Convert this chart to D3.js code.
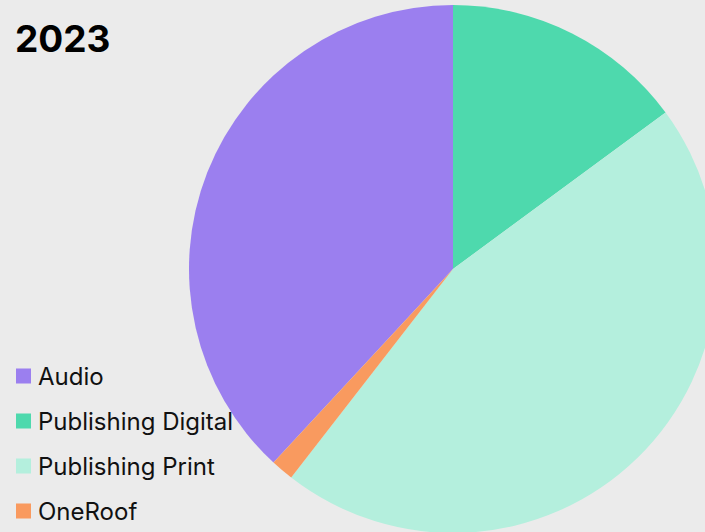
<!DOCTYPE html>
<html>
<head>
<meta charset="utf-8">
<script src="https://cdn.jsdelivr.net/npm/d3@7"></script>
<style>
	body { margin: 0; background: #ebebeb; }
	svg { display: block; font-family: Inter, "Noto Sans", sans-serif; }
</style>
</head>
<body>
<div id="chart"></div>
<script>
var categories = ["Audio", "Publishing Digital", "Publishing Print", "OneRoof"];
var values = [38.1, 14.9, 45.6, 1.4];
var colors = ["#9b7fef", "#4ed9ad", "#b4efdd", "#f99a5f"];
var title = "2023";

var width = 705,
	height = 532;

var svg = d3.select("#chart").append("svg")
	.attr("width", width)
	.attr("height", height);

svg.append("rect")
	.attr("width", width)
	.attr("height", height)
	.attr("fill", "#ebebeb");

var total = d3.sum(values);

// Audio ends at 12 o'clock, the rest runs clockwise from there
var offset = 2 * Math.PI * values[0] / total;
var pie = d3.pie()
	.sort(null)
	.startAngle(-offset)
	.endAngle(2 * Math.PI - offset);

var arc = d3.arc().innerRadius(0).outerRadius(264);

svg.append("g")
	.attr("transform", "translate(453,269)")
	.selectAll("path")
	.data(pie(values))
	.enter()
	.append("path")
	.attr("d", arc)
	.attr("fill", function(d, i) { return colors[i]; });

svg.append("text")
	.attr("x", 15)
	.attr("y", 52)
	.attr("font-size", 37)
	.attr("font-weight", 700)
	.attr("fill", "#000")
	.text(title);

var legend = svg.append("g")
	.selectAll(".item")
	.data(categories)
	.enter()
	.append("g")
	.attr("class", "item")
	.attr("transform", function(d, i) { return "translate(16," + (376 + i * 45) + ")"; });

legend.append("rect")
	.attr("x", 0)
	.attr("y", -7.5)
	.attr("width", 15)
	.attr("height", 15)
	.attr("fill", function(d, i) { return colors[i]; });

legend.append("text")
	.attr("x", 22)
	.attr("y", 8.5)
	.attr("font-size", 24)
	.attr("fill", "#111")
	.text(function(d) { return d; });
</script>
</body>
</html>
